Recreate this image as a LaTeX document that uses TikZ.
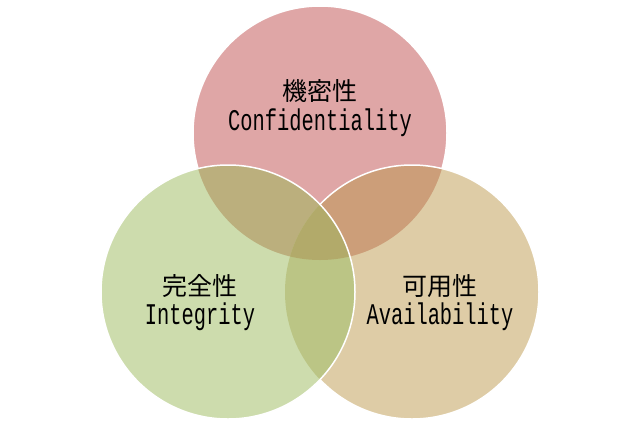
\documentclass[tikz,border=0pt]{standalone}
\usepackage{fontspec}
\newfontfamily\jpfont{Noto Sans CJK JP}
\newfontfamily\enfont{Liberation Mono}[FakeStretch=0.68]

\definecolor{confpink}{HTML}{DFA6A6}
\definecolor{intgreen}{HTML}{CDDCAD}
\definecolor{avatan}{HTML}{DECCA6}
\definecolor{confint}{HTML}{BBAF7D}
\definecolor{confava}{HTML}{CC9E79}
\definecolor{intava}{HTML}{BBC585}
\definecolor{allthree}{HTML}{B2AA6A}

\tikzset{
	ring/.style={draw=white, line width=1.5pt},
	jplabel/.style={anchor=base, inner sep=0pt, font=\jpfont\fontsize{25pt}{25pt}\selectfont},
	enlabel/.style={anchor=base, inner sep=0pt, font=\enfont\fontsize{30pt}{30pt}\selectfont}
}

\begin{document}
\begin{tikzpicture}[x=1pt, y=-1pt]

		\useasboundingbox (0,0) rectangle (640,426);
		\def\rad{127pt}

		\coordinate (conf) at (320,133);
		\coordinate (int) at (228,292);
		\coordinate (ava) at (412,292);

		% top circle
		\fill[confpink] (conf) circle[radius=\rad];
		\draw[ring] (conf) circle[radius=\rad];

		% right circle
		\fill[avatan] (ava) circle[radius=\rad];
		\begin{scope}
		\clip (ava) circle[radius=\rad];
		\fill[confava] (conf) circle[radius=\rad];
		\end{scope}
		\draw[ring] (ava) circle[radius=\rad];

		% left circle
		\fill[intgreen] (int) circle[radius=\rad];
		\begin{scope}
		\clip (int) circle[radius=\rad];
		\fill[confint] (conf) circle[radius=\rad];
		\fill[intava] (ava) circle[radius=\rad];
		\clip (ava) circle[radius=\rad];
		\fill[allthree] (conf) circle[radius=\rad];
		\end{scope}
		\draw[ring] (int) circle[radius=\rad];

		\foreach \n / \x / \y / \jp / \en in {conf/320/100.5/機密性/Confidentiality, int/200/295/完全性/Integrity, ava/440/295/可用性/Availability} {
		\node[jplabel] (\n-jp) at (\x, \y) {\jp};
		\node[enlabel] (\n-en) at (\x, \y+29.5) {\en};
		}

	\end{tikzpicture}
\end{document}
